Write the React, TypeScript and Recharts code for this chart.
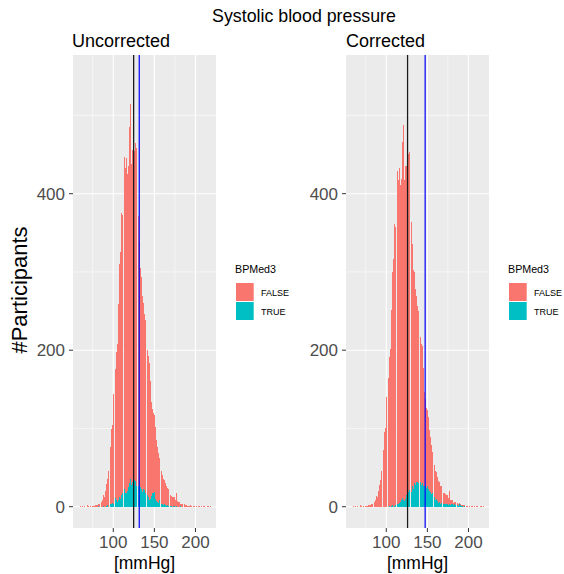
import React from 'react';
import { BarChart, Bar, XAxis, YAxis, CartesianGrid, ReferenceLine } from 'recharts';

// 1 mmHg histogram bins, first bin at 58 mmHg
const FIRST_BIN = 58;

// participants without BP medication (same in both panels)
const untreatedCounts = [
  0, 0, 1, 0, 1, 1, 0, 1, 0, 1,
  0, 2, 1, 0, 1, 1, 0, 1, 1, 1,
  2, 1, 2, 2, 3, 4, 5, 4, 6, 8,
  14, 12, 22, 20, 28, 34, 46, 50, 58, 72,
  96, 100, 140, 150, 166, 165, 190, 202, 250, 258,
  298, 316, 360, 355, 365, 378, 425, 415, 428, 405,
  422, 410, 455, 480, 410, 425, 430, 420, 420, 432,
  432, 435, 380, 345, 310, 280, 270, 255, 250, 238,
  225, 220, 208, 197, 185, 180, 175, 150, 132, 120,
  108, 102, 98, 92, 85, 78, 70, 63, 53, 54,
  48, 41, 37, 34, 31, 30, 28, 25, 22, 22,
  17, 16, 14, 13, 13, 11, 9, 12, 9, 16,
  7, 6, 5, 6, 3, 3, 4, 4, 2, 3,
  2, 2, 1, 2, 1, 1, 2, 1, 1, 2,
  1, 1, 0, 1, 1, 0, 1, 1, 0, 1,
  1, 0, 1, 1, 0, 1, 0, 1, 1, 0,
  1, 0, 0,
];

// participants on BP medication, measured values
const treatedUncorrected = [
  0, 0, 0, 0, 0, 0, 0, 0, 0, 0,
  0, 0, 0, 0, 0, 0, 0, 0, 0, 0,
  0, 0, 0, 0, 1, 0, 0, 1, 0, 0,
  1, 0, 2, 0, 1, 2, 0, 3, 2, 4,
  3, 5, 4, 6, 7, 11, 8, 6, 9, 8,
  12, 10, 15, 18, 21, 19, 22, 18, 17, 20,
  23, 25, 30, 35, 28, 31, 30, 36, 34, 33,
  26, 30, 28, 27, 28, 25, 23, 20, 19, 22,
  21, 18, 17, 16, 15, 12, 8, 10, 11, 14,
  17, 18, 19, 10, 8, 7, 6, 5, 9, 4,
  3, 4, 3, 2, 3, 2, 2, 1, 2, 1,
  2, 1, 1, 1, 0, 1, 2, 1, 0, 1,
  0, 0, 0, 0, 1,
];

// participants on BP medication, corrected values
const treatedCorrected = [
  0, 0, 0, 0, 0, 0, 0, 0, 0, 0,
  0, 0, 0, 0, 0, 0, 0, 0, 0, 0,
  0, 0, 0, 0, 0, 0, 0, 0, 0, 0,
  0, 0, 0, 0, 0, 0, 0, 0, 0, 0,
  0, 0, 0, 0, 0, 0, 1, 0, 1, 0,
  2, 0, 1, 2, 3, 2, 4, 3, 5, 6,
  8, 9, 11, 8, 7, 10, 12, 15, 17, 19,
  21, 20, 23, 19, 26, 22, 30, 25, 28, 31,
  32, 30, 35, 33, 32, 28, 30, 27, 28, 26,
  29, 24, 26, 22, 21, 20, 19, 16, 17, 15,
  15, 12, 8, 10, 7, 6, 5, 6, 4, 5,
  6, 4, 3, 4, 3, 4, 2, 3, 2, 4,
  2, 3, 2, 3, 2, 3, 2, 3, 1, 2,
  1, 3, 2, 6, 1, 1, 0, 1, 0, 1,
];

const xTicks = [100, 150, 200];
const xMinor = [75, 125, 175];
const yTicks = [0, 200, 400];
const yMinor = [100, 300, 500];

// group means [FALSE, TRUE]
const meansUncorrected = [124.8, 131.6];
const meansCorrected = [125.9, 147.3];

const legendKeys = ['FALSE', 'TRUE'];
const legendFills = ['#F8766D', '#00BFC4'];

const X_DOMAIN: [number, number] = [51, 225];
const Y_DOMAIN: [number, number] = [-27.2, 577.2];
const FONT = '"Liberation Sans", Arial, Helvetica, sans-serif';

function buildRows(treated: number[]) {
  return untreatedCounts.map((n, i) => ({
    bp: FIRST_BIN + i,
    FALSE: n,
    TRUE: treated[i] ?? 0,
  }));
}

const tickStyle = { fontSize: 17, fill: '#4D4D4D', fontFamily: FONT };

function Panel({ left, data, means }: { left: number; data: any[]; means: number[] }) {
  return (
    <div style={{ position: 'absolute', left, top: 0 }}>
      <BarChart
        width={216}
        height={574}
        data={data}
        margin={{ top: 55, right: 0, bottom: 0, left: 0 }}
        barGap={0}
        barCategoryGap={0}
      >
        <CartesianGrid
          fill="#EBEBEB"
          stroke="#FFFFFF"
          strokeWidth={0.55}
          horizontalValues={yMinor}
          verticalValues={xMinor}
        />
        <CartesianGrid
          stroke="#FFFFFF"
          strokeWidth={1.1}
          horizontalValues={yTicks}
          verticalValues={xTicks}
        />
        <XAxis
          type="number"
          dataKey="bp"
          domain={X_DOMAIN}
          ticks={xTicks}
          allowDataOverflow
          height={46}
          axisLine={false}
          tickLine={{ stroke: '#333333' }}
          tickSize={4}
          tickMargin={4}
          tick={tickStyle}
        />
        <YAxis
          type="number"
          domain={Y_DOMAIN}
          ticks={yTicks}
          allowDataOverflow
          width={73}
          axisLine={false}
          tickLine={{ stroke: '#333333' }}
          tickSize={4}
          tickMargin={4}
          tick={tickStyle}
        />
        <Bar
          dataKey="TRUE"
          stackId="bp"
          fill={legendFills[1]}
          barSize={1.3}
          shapeRendering="crispEdges"
          isAnimationActive={false}
        />
        <Bar
          dataKey="FALSE"
          stackId="bp"
          fill={legendFills[0]}
          barSize={1.3}
          shapeRendering="crispEdges"
          isAnimationActive={false}
        />
        <ReferenceLine x={means[0]} stroke="#1A1A1A" strokeWidth={1.3} />
        <ReferenceLine x={means[1]} stroke="#0000FF" strokeWidth={1.2} />
      </BarChart>
    </div>
  );
}

function Legend({ x }: { x: number }) {
  return (
    <g>
      <text x={x} y={273} fontSize={10.7} fill="#000">BPMed3</text>
      {legendKeys.map((k, i) => (
        <g key={k}>
          <rect x={x + 1} y={283 + i * 19} width={17.7} height={18} fill={legendFills[i]} />
          <text x={x + 26} y={295.5 + i * 19} fontSize={9} fill="#000">{k}</text>
        </g>
      ))}
    </g>
  );
}

export default function App() {
  const rowsUncorrected = buildRows(treatedUncorrected);
  const rowsCorrected = buildRows(treatedCorrected);
  return (
    <div
      style={{
        position: 'absolute',
        left: 0,
        top: 0,
        width: 564,
        height: 574,
        background: '#FFFFFF',
        fontFamily: FONT,
        overflow: 'hidden',
      }}
    >
      <Panel left={0} data={rowsUncorrected} means={meansUncorrected} />
      <Panel left={273} data={rowsCorrected} means={meansCorrected} />
      <svg
        width={564}
        height={574}
        style={{ position: 'absolute', left: 0, top: 0, pointerEvents: 'none' }}
        fontFamily={FONT}
      >
        <text x={304} y={22} textAnchor="middle" fontSize={17.8} fill="#000">Systolic blood pressure</text>
        <text x={72} y={47} fontSize={18} fill="#000">Uncorrected</text>
        <text x={346} y={47} fontSize={18} fill="#000">Corrected</text>
        <text transform="translate(27,290) rotate(-90)" textAnchor="middle" fontSize={22} fill="#000">
          #Participants
        </text>
        <text x={144.5} y={569} textAnchor="middle" fontSize={17.5} fill="#000">[mmHg]</text>
        <text x={417.5} y={569} textAnchor="middle" fontSize={17.5} fill="#000">[mmHg]</text>
        <Legend x={235} />
        <Legend x={508} />
      </svg>
    </div>
  );
}
